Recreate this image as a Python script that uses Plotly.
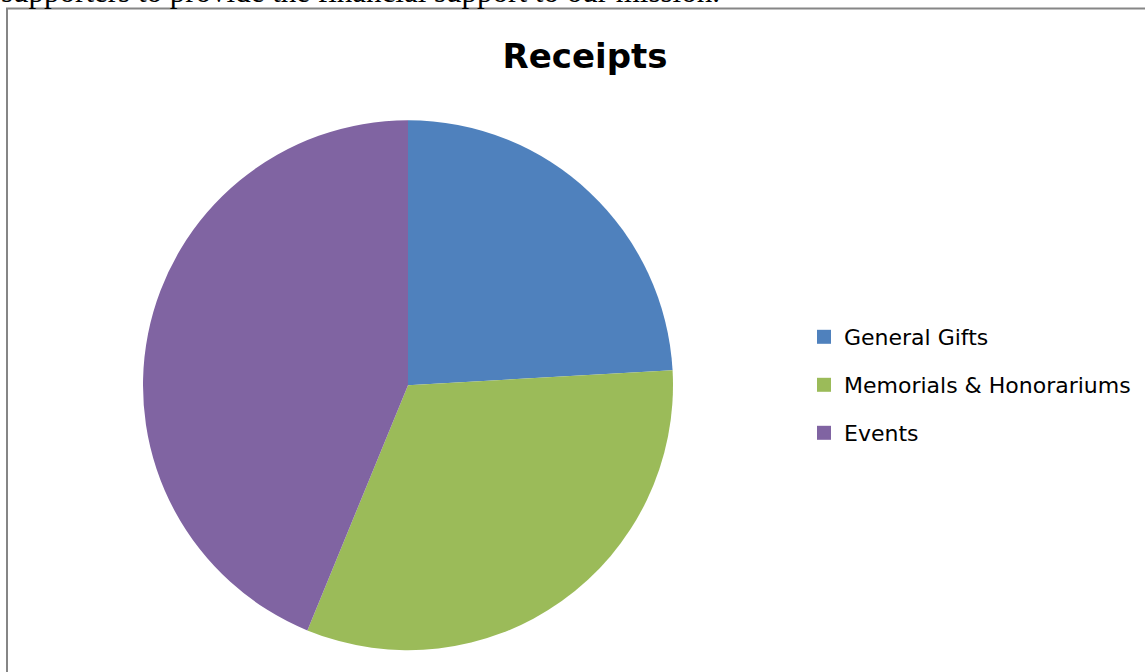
import plotly.graph_objects as go

W, H = 1145, 672

categories = ["General Gifts", "Memorials & Honorariums", "Events"]
values = [24.1, 32.1, 43.8]
colors = ["#4F81BD", "#9BBB59", "#8064A2"]
title_text = "Receipts"
page_text = "supporters to provide the financial support to our mission."
legend_rows_px = [337, 385, 433]

def px_x(v):
    return v / W

def px_y(v):
    return 1 - v / H

fig = go.Figure()
fig.add_trace(go.Pie(
    labels=categories,
    values=values,
    marker=dict(colors=colors, line=dict(width=0)),
    sort=False,
    direction="clockwise",
    rotation=0,
    textinfo="none",
    hoverinfo="label+value",
    showlegend=False,
    domain=dict(x=[px_x(143), px_x(673)], y=[px_y(650.5), px_y(120)]),
))

legend_font = dict(family="DejaVu Sans", size=22, color="black")
legend_layouts = {}
for i, (cat, col, row) in enumerate(zip(categories, colors, legend_rows_px)):
    lname = "legend" if i == 0 else f"legend{i + 1}"
    fig.add_trace(go.Scatter(
        x=[None], y=[None], mode="markers", name=cat,
        marker=dict(symbol="square", size=14, color=col),
        showlegend=True, legend=lname, hoverinfo="skip",
    ))
    legend_layouts[lname] = dict(
        x=px_x(804), y=px_y(row), xanchor="left", yanchor="middle",
        font=legend_font, bgcolor="rgba(0,0,0,0)",
    )

fig.update_layout(
    width=W, height=H,
    margin=dict(l=0, r=0, t=0, b=0),
    paper_bgcolor="white",
    plot_bgcolor="white",
    xaxis=dict(visible=False),
    yaxis=dict(visible=False),
    title=dict(
        text="<b>" + title_text + "</b>",
        x=px_x(585), y=px_y(56), xanchor="center", yanchor="middle",
        font=dict(family="DejaVu Sans", size=34, color="black"),
    ),
    showlegend=True,
    **legend_layouts,
    shapes=[dict(
        type="rect", xref="paper", yref="paper",
        x0=px_x(7), x1=1.02, y0=-0.02, y1=px_y(8.5),
        line=dict(color="#868686", width=2), fillcolor="rgba(0,0,0,0)",
        layer="below",
    )],
    annotations=[dict(
        text=page_text, xref="paper", yref="paper",
        x=px_x(-1), y=px_y(-8.5), xanchor="left", yanchor="middle",
        showarrow=False,
        font=dict(family="Liberation Serif", size=31, color="black"),
    )],
)

fig.write_html("out.html")
